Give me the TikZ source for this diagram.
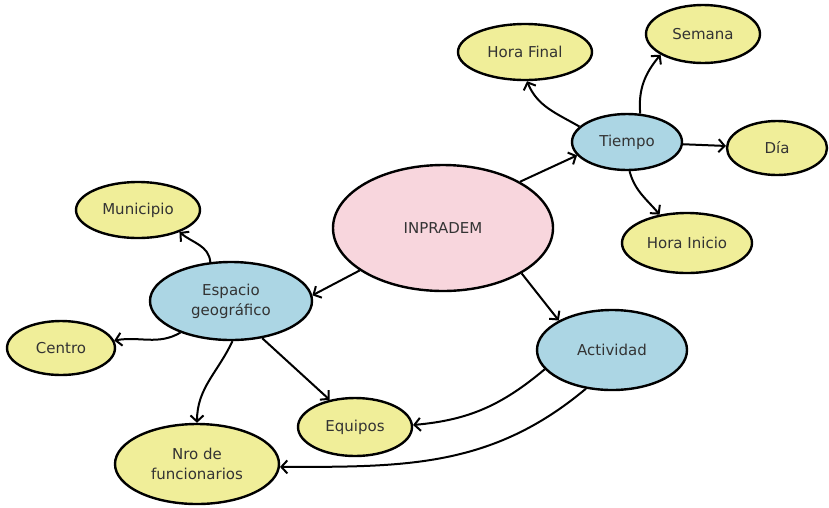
\documentclass[tikz,border=0pt]{standalone}
\usepackage{fontspec}
\setmainfont{DejaVu Sans}
\usepackage{tikz}
\usetikzlibrary{shapes.geometric,arrows.meta}
\definecolor{rosa}{RGB}{248,214,221}
\definecolor{celeste}{RGB}{172,214,228}
\definecolor{amarillo}{RGB}{240,238,153}

\begin{document}
\begin{tikzpicture}[x=1pt,y=-1pt,
		font=\fontsize{15}{20}\selectfont,
		centro/.style={ellipse,draw,line width=2.4pt,inner sep=0pt,fill=rosa,text=black!80},
		rama/.style={ellipse,draw,line width=2.4pt,inner sep=0pt,fill=celeste,align=center,text=black!80},
		hoja/.style={ellipse,draw,line width=2.4pt,inner sep=0pt,fill=amarillo,align=center,text=black!80},
		rel/.style={-{Straight Barb[length=6pt,width=13pt]},line width=2pt}]
			\useasboundingbox (0,0) rectangle (829,507);
			% nodos
			\node[centro,minimum width=220,minimum height=126] (inp) at (443,228) {INPRADEM};
			\node[rama,minimum width=110,minimum height=56] (tie) at (627,142) {Tiempo};
			\node[rama,minimum width=162,minimum height=78] (esp) at (231,301) {Espacio\\geográfico};
			\node[rama,minimum width=150,minimum height=80] (act) at (612,350) {Actividad};
			\node[hoja,minimum width=134,minimum height=56] (hf) at (525,52) {Hora Final};
			\node[hoja,minimum width=114,minimum height=58] (sem) at (703,34) {Semana};
			\node[hoja,minimum width=100,minimum height=54] (dia) at (777,148) {Día};
			\node[hoja,minimum width=130,minimum height=60] (hi) at (687,243) {Hora Inicio};
			\node[hoja,minimum width=124,minimum height=56] (mun) at (138,210) {Municipio};
			\node[hoja,minimum width=108,minimum height=54] (cen) at (61,348) {Centro};
			\node[hoja,minimum width=114,minimum height=58] (equ) at (355,427) {Equipos};
			\node[hoja,minimum width=164,minimum height=80] (nro) at (197,464) {Nro de\\funcionarios};
			% relaciones
			\draw[rel] (inp.31) -- (tie.195);
			\draw[rel] (inp.207) -- (esp.4);
			\draw[rel] (inp.-30) -- (act.151);
			\draw[rel] (tie.162) to[out=150,in=-68] (hf.-86);
			\draw[rel] (tie.65) to[out=95,in=-130] (sem.206);
			\draw[rel] (tie) -- (dia);
			\draw[rel] (tie.-85) to[out=-75,in=130] (hi.134);
			\draw[rel] (esp.118) to[out=95,in=-40] (mun.-28);
			\draw[rel] (esp.212) to[out=-150,in=10] (cen.8);
			\draw[rel] (esp.-88) to[out=-115,in=90] (nro.90);
			\draw[rel] (esp.-50) -- (equ.133);
			\draw[rel] (act.196) to[out=-140,in=5] (equ.2);
			\draw[rel] (act.236) to[out=-140,in=0] (nro.-2);
		\end{tikzpicture}
\end{document}
